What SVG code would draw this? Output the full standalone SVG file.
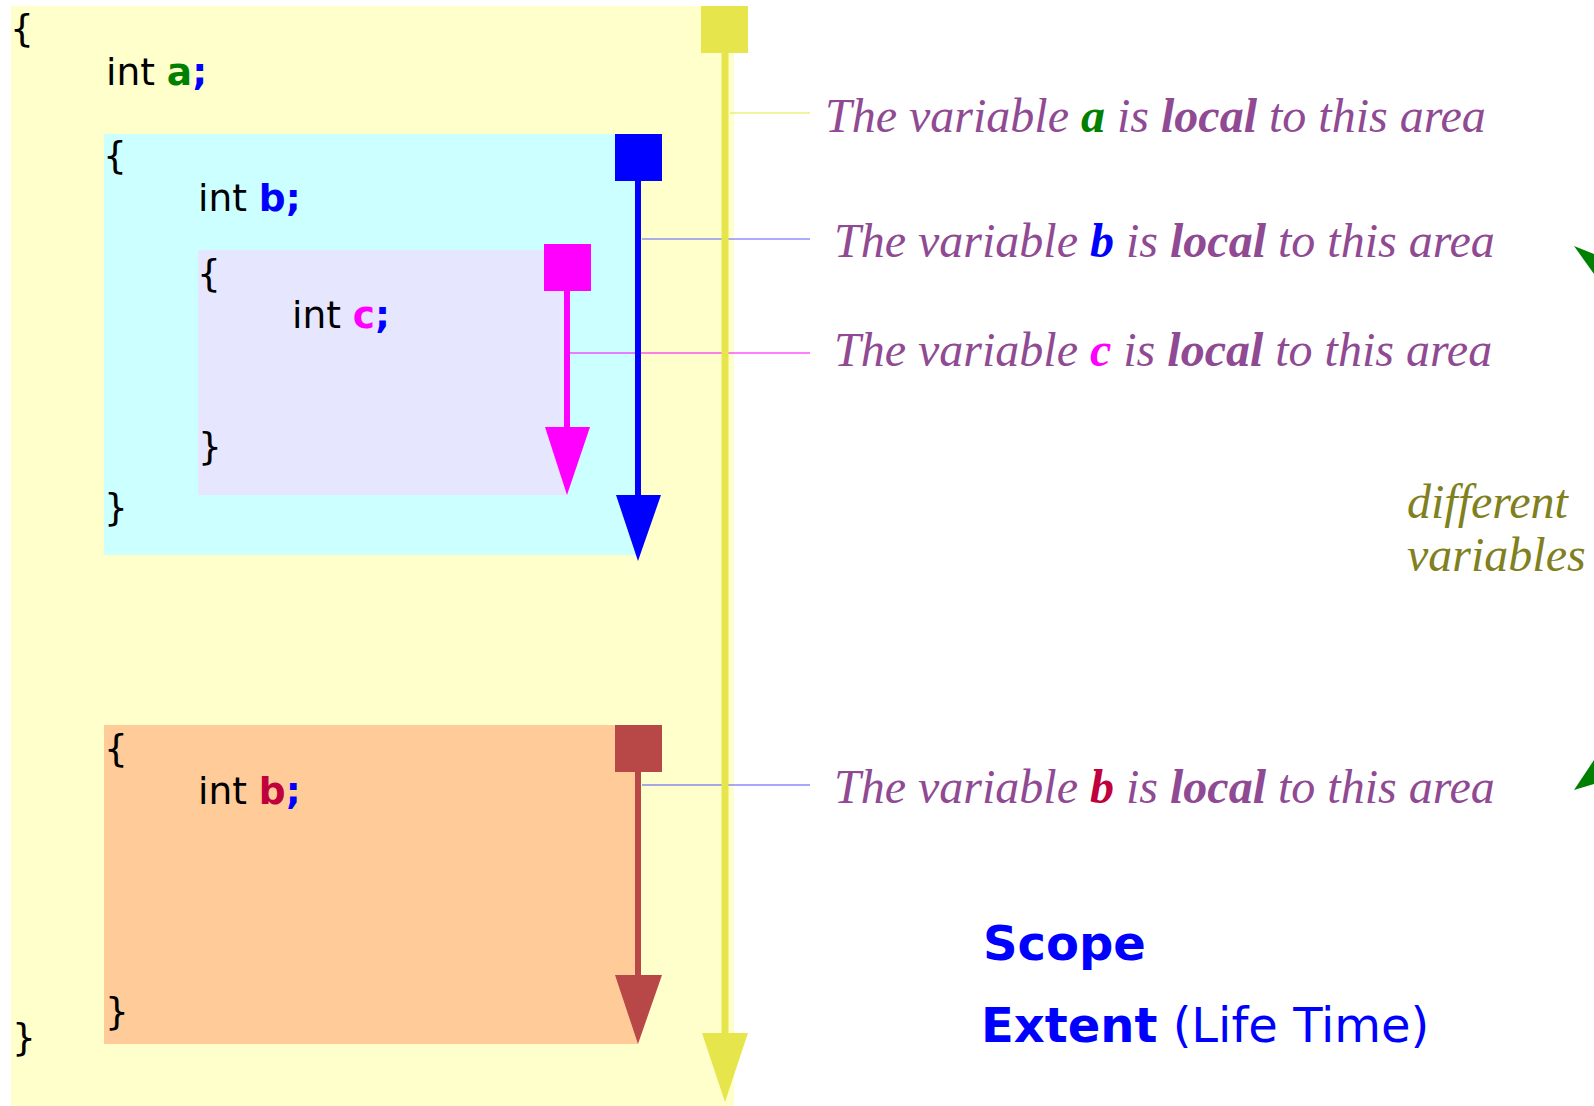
<svg xmlns="http://www.w3.org/2000/svg" width="1594" height="1106" viewBox="0 0 1594 1106">
<style>
.code{font-family:"DejaVu Sans",sans-serif;font-size:37.5px;fill:#000}
.b{font-weight:bold}
.lbl{font-family:"Liberation Serif",serif;font-style:italic;font-size:48px;fill:#8f4a93}
.diff{font-family:"Liberation Serif",serif;font-style:italic;font-size:48px;fill:#808020}
.big{font-family:"DejaVu Sans",sans-serif;font-size:48px;fill:#0000ff}
</style>
<rect width="1594" height="1106" fill="#ffffff"/>
<g id="block-a">
<rect x="11" y="6" width="723" height="1100" fill="#ffffcc"/>
<text class="code" x="10" y="41">{</text>
<text class="code" x="106" y="85">int <tspan class="b" fill="#008000">a</tspan><tspan class="b" fill="#0000ff">;</tspan></text>
<text class="code" x="12" y="1050">}</text>
</g>
<g id="block-b1">
<rect x="104" y="134" width="533" height="421" fill="#ccffff"/>
<text class="code" x="103" y="168">{</text>
<text class="code" x="198" y="211">int <tspan class="b" fill="#0000ff">b;</tspan></text>
<text class="code" x="104" y="520">}</text>
</g>
<g id="block-c">
<rect x="198" y="250" width="370" height="245" fill="#e6e6ff"/>
<text class="code" x="197" y="286">{</text>
<text class="code" x="292" y="328">int <tspan class="b" fill="#ff00ff">c</tspan><tspan class="b" fill="#0000ff">;</tspan></text>
<text class="code" x="198" y="459">}</text>
</g>
<g id="block-b2">
<rect x="104" y="725" width="534" height="319" fill="#ffcc99"/>
<text class="code" x="104" y="761">{</text>
<text class="code" x="198" y="804">int <tspan class="b" fill="#c0003c">b</tspan><tspan class="b" fill="#0000ff">;</tspan></text>
<text class="code" x="105" y="1024">}</text>
</g>
<g id="connectors">
<line x1="730" y1="113" x2="810" y2="113" stroke="#e6e64c" stroke-width="1.2"/>
<line x1="642" y1="239" x2="810" y2="239" stroke="#5a5aff" stroke-width="1.2"/>
<line x1="569" y1="353" x2="810" y2="353" stroke="#ff00ff" stroke-width="1.2"/>
<line x1="642" y1="785" x2="810" y2="785" stroke="#5050ff" stroke-width="1.2"/>
<rect x="701" y="6" width="47" height="47" fill="#e6e64c"/>
<line x1="725" y1="53" x2="725" y2="1035" stroke="#e6e64c" stroke-width="7"/>
<polygon points="702,1033 748,1033 725,1102" fill="#e6e64c"/>
<rect x="615" y="134" width="47" height="47" fill="#0000ff"/>
<line x1="638" y1="181" x2="638" y2="497" stroke="#0000ff" stroke-width="6"/>
<polygon points="616,495 661,495 638,561" fill="#0000ff"/>
<rect x="544" y="244" width="47" height="47" fill="#ff00ff"/>
<line x1="567" y1="291" x2="567" y2="429" stroke="#ff00ff" stroke-width="6"/>
<polygon points="545,427 590,427 567,495" fill="#ff00ff"/>
<rect x="615" y="725" width="47" height="47" fill="#b84747"/>
<line x1="638" y1="772" x2="638" y2="977" stroke="#b84747" stroke-width="6"/>
<polygon points="615,975 662,975 638,1044" fill="#b84747"/>
<polygon points="1574,246 1594,254 1594,274" fill="#008000"/>
<polygon points="1574,790 1594,760 1594,784" fill="#008000"/>
</g>
<g id="labels">
<text class="lbl" x="825" y="132">The variable <tspan font-weight="bold" fill="#008000">a</tspan> is <tspan font-weight="bold">local</tspan> to this area</text>
<text class="lbl" x="834" y="257">The variable <tspan font-weight="bold" fill="#0000ff">b</tspan> is <tspan font-weight="bold">local</tspan> to this area</text>
<text class="lbl" x="834" y="366">The variable <tspan font-weight="bold" fill="#ff00ff">c</tspan> is <tspan font-weight="bold">local</tspan> to this area</text>
<text class="lbl" x="834" y="803">The variable <tspan font-weight="bold" fill="#c0003c">b</tspan> is <tspan font-weight="bold">local</tspan> to this area</text>
<text class="diff" x="1407" y="518">different</text>
<text class="diff" x="1407" y="571">variables</text>
<text class="big" x="983" y="960" font-weight="bold">Scope</text>
<text class="big" x="981" y="1042"><tspan font-weight="bold">Extent</tspan> (Life Time)</text>
</g>
</svg>
